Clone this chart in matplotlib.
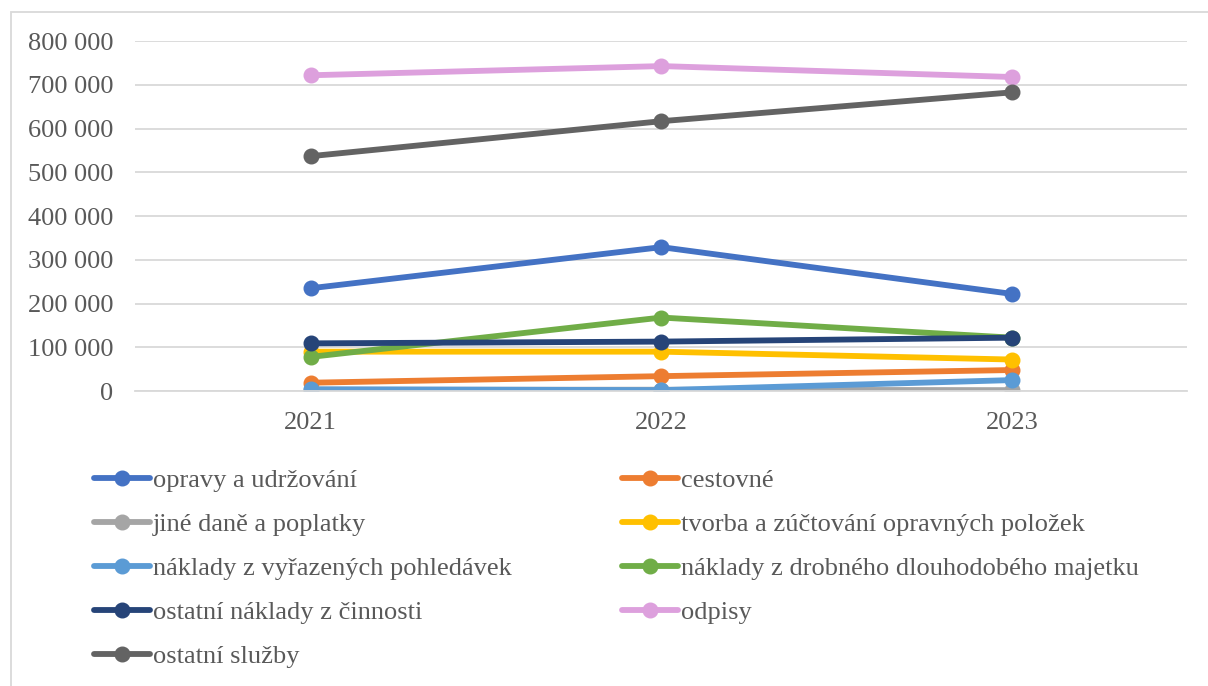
import matplotlib
matplotlib.use("Agg")
import matplotlib.pyplot as plt
from matplotlib.patches import Rectangle
from matplotlib.ticker import FuncFormatter

plt.rcParams["font.family"] = ["Liberation Serif", "DejaVu Serif"]

years = ["2021", "2022", "2023"]

opravy = [235000, 329000, 222000]
cestovne = [19000, 34000, 48000]
jine_dane = [3000, 3000, 2000]
tvorba = [90000, 90000, 72000]
vyrazene = [4000, 2000, 25000]
drobny = [78000, 168000, 122000]
ostatni_naklady = [109000, 113000, 122000]
odpisy = [722000, 743000, 718000]
ostatni_sluzby = [537000, 617000, 683000]

labels = [
    "opravy a udržování",
    "cestovné",
    "jiné daně a poplatky",
    "tvorba a zúčtování opravných položek",
    "náklady z vyřazených pohledávek",
    "náklady z drobného dlouhodobého majetku",
    "ostatní náklady z činnosti",
    "odpisy",
    "ostatní služby",
]
series = [opravy, cestovne, jine_dane, tvorba, vyrazene, drobny,
          ostatni_naklady, odpisy, ostatni_sluzby]
colors = ["#4472C4", "#ED7D31", "#A5A5A5", "#FFC000", "#5B9BD5",
          "#70AD47", "#264478", "#DDA0DD", "#636363"]

fig = plt.figure(figsize=(12.08, 6.86), dpi=100)
ax = fig.add_axes([0.112, 0.43, 0.871, 0.51])

x = list(range(len(years)))
handles = []
for vals, lab, col in zip(series, labels, colors):
    (h,) = ax.plot(x, vals, color=col, linewidth=4.2, marker="o",
                   markersize=10.5, label=lab, solid_capstyle="round")
    handles.append(h)

ax.set_xlim(-0.5, 2.5)
ax.set_ylim(0, 800000)
ax.set_yticks(range(0, 800001, 100000))
ax.yaxis.set_major_formatter(
    FuncFormatter(lambda v, p: f"{int(v):,}".replace(",", " ")))
ax.set_xticks(x)
ax.set_xticklabels(years)
ax.grid(axis="y", color="#D9D9D9", linewidth=1.3)
ax.set_axisbelow(True)
for s in ["top", "right", "left"]:
    ax.spines[s].set_visible(False)
ax.spines["bottom"].set_color("#D9D9D9")
ax.spines["bottom"].set_linewidth(1.3)
ax.tick_params(axis="both", length=0, labelsize=19, colors="#595959")
ax.tick_params(axis="x", pad=15)
ax.tick_params(axis="y", pad=16)

# legend fills column by column, so reorder to read row by row
order = [0, 2, 4, 6, 8, 1, 3, 5, 7]
leg = fig.legend([handles[i] for i in order], [labels[i] for i in order],
                 ncol=2, loc="upper left", bbox_to_anchor=(0.078, 0.317),
                 frameon=False, fontsize=19, handlelength=2.1,
                 handletextpad=0.12, columnspacing=4.2, labelspacing=0.78,
                 borderaxespad=0, borderpad=0)
for t in leg.get_texts():
    t.set_color("#595959")

fig.patches.append(Rectangle((0.009, -0.01), 1.0, 0.993, transform=fig.transFigure,
                             fill=False, edgecolor="#D9D9D9", linewidth=1.3))

fig.savefig("out.png", dpi=100)
